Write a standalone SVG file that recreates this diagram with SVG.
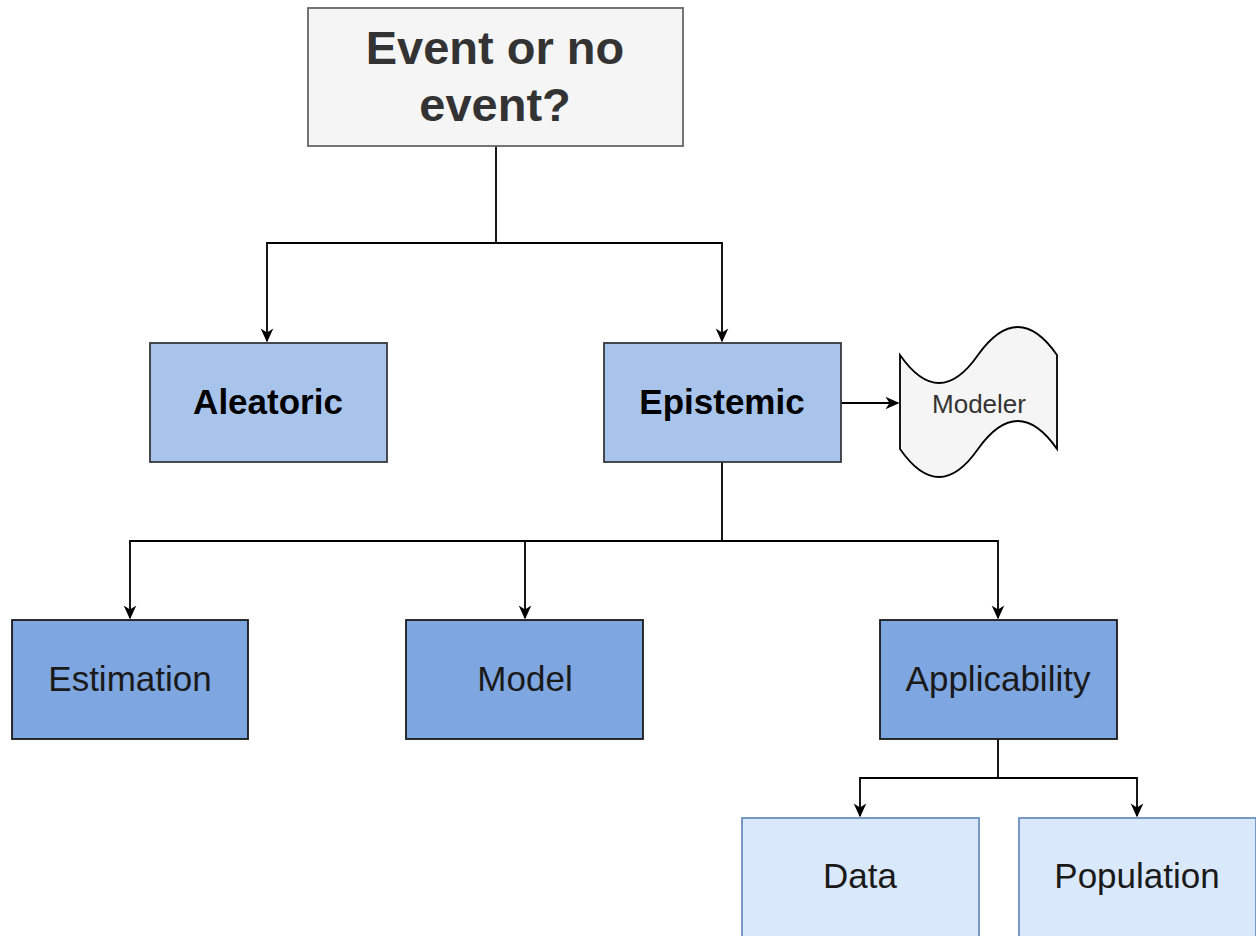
<svg xmlns="http://www.w3.org/2000/svg" width="1256" height="936" viewBox="0 0 1256 936">
<defs>
<marker id="arr" viewBox="0 0 10 10" refX="9" refY="5" markerWidth="14" markerHeight="14" markerUnits="userSpaceOnUse" orient="auto">
<path d="M0,0.5 L10,5 L0,9.5 L3,5 Z" fill="#000"/>
</marker>
</defs>
<style>
.lbl{font-family:"Liberation Sans",Arial,sans-serif;text-anchor:middle}
.c{fill:none;stroke:#000;stroke-width:1.8}
.l1{fill:#A9C4EB;stroke:#36393d;stroke-width:1.8}
.l2{fill:#7EA6E0;stroke:#1a1a1a;stroke-width:1.8}
.l3{fill:#dae8fc;stroke:#6c8ebf;stroke-width:1.8}
</style>
<rect width="1256" height="936" fill="#fff"/>
<g id="connectors">
<path class="c" d="M496 146 V243 H267 V341" marker-end="url(#arr)"/>
<path class="c" d="M496 243 H722 V341" marker-end="url(#arr)"/>
<path class="c" d="M841 403 H898" marker-end="url(#arr)"/>
<path class="c" d="M722 462 V541 H130 V618" marker-end="url(#arr)"/>
<path class="c" d="M525 541 V618" marker-end="url(#arr)"/>
<path class="c" d="M722 541 H998 V618" marker-end="url(#arr)"/>
<path class="c" d="M998 739 V778 H860 V816" marker-end="url(#arr)"/>
<path class="c" d="M998 778 H1137 V816" marker-end="url(#arr)"/>
</g>
<g id="title">
<rect x="308" y="8" width="375" height="138" fill="#f5f5f5" stroke="#666" stroke-width="1.8"/>
<text class="lbl" x="495" y="64" font-size="47" font-weight="bold" fill="#333">Event or no</text>
<text class="lbl" x="495" y="121" font-size="47" font-weight="bold" fill="#333">event?</text>
</g>
<g id="aleatoric">
<rect class="l1" x="150" y="343" width="237" height="119"/>
<text class="lbl" x="268" y="414" font-size="35" font-weight="bold">Aleatoric</text>
</g>
<g id="epistemic">
<rect class="l1" x="604" y="343" width="237" height="119"/>
<text class="lbl" x="722" y="414" font-size="35" font-weight="bold">Epistemic</text>
</g>
<g id="modeler">
<path d="M900 355 Q939 411 978 355 Q1018 299 1057 355 L1057 449 Q1018 393 978 449 Q939 505 900 449 Z" fill="#f5f5f5" stroke="#000" stroke-width="1.8"/>
<text class="lbl" x="979" y="413" font-size="26" fill="#333">Modeler</text>
</g>
<g id="estimation">
<rect class="l2" x="12" y="620" width="236" height="119"/>
<text class="lbl" x="130" y="691" font-size="35" fill="#1a1a1a">Estimation</text>
</g>
<g id="model">
<rect class="l2" x="406" y="620" width="237" height="119"/>
<text class="lbl" x="525" y="691" font-size="35" fill="#1a1a1a">Model</text>
</g>
<g id="applicability">
<rect class="l2" x="880" y="620" width="237" height="119"/>
<text class="lbl" x="998" y="691" font-size="35" fill="#1a1a1a">Applicability</text>
</g>
<g id="data">
<rect class="l3" x="742" y="818" width="237" height="130"/>
<text class="lbl" x="860" y="888" font-size="35" fill="#1a1a1a">Data</text>
</g>
<g id="population">
<rect class="l3" x="1019" y="818" width="237" height="130"/>
<text class="lbl" x="1137" y="888" font-size="35" fill="#1a1a1a">Population</text>
</g>
</svg>
